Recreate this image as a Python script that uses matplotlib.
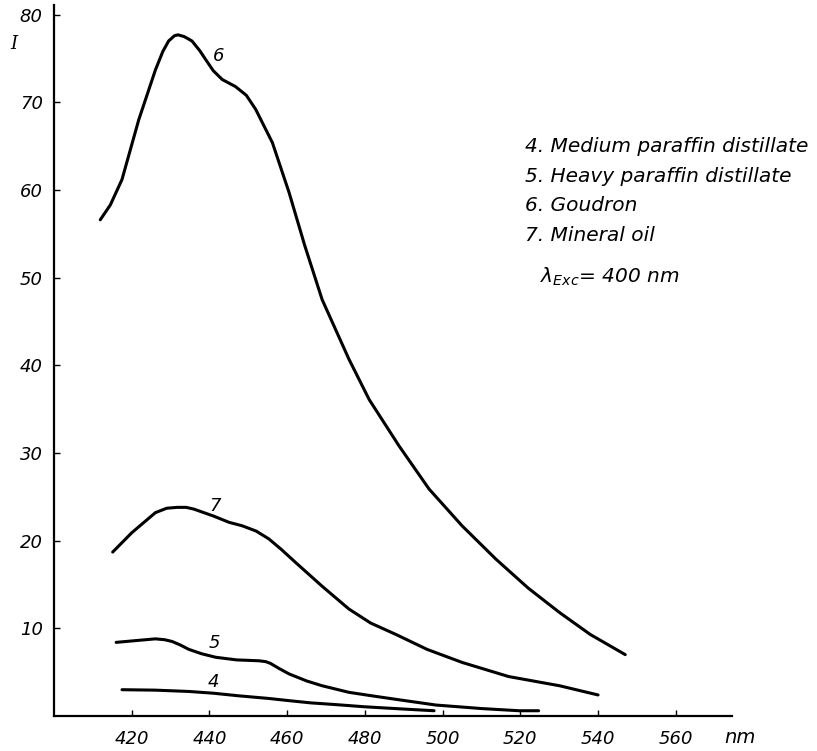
import numpy as np
import matplotlib
matplotlib.use('Agg')
import matplotlib.pyplot as plt

plt.rcParams['font.family'] = ['DejaVu Sans']
plt.rcParams['font.style'] = 'italic'

# fluorescence spectra, excitation 400 nm
nm6 = [411.9, 414.5, 417.5, 421.8, 426.1, 428.0, 429.5, 431.0, 431.9, 433.5, 435.5, 437.5,
       439.0, 441.0, 443.3, 446.7, 449.5, 451.9, 456.2, 460.5, 464.5, 469.0, 475.9, 481.1,
       488.8, 496.5, 505.0, 513.7, 522.0, 530.1, 538.0, 547.0]
I6 = [56.6, 58.3, 61.2, 68.0, 73.7, 75.8, 77.0, 77.6, 77.7, 77.5, 77.0, 75.9,
      74.9, 73.6, 72.6, 71.8, 70.8, 69.2, 65.4, 59.7, 53.7, 47.5, 40.7, 36.1,
      30.8, 25.9, 21.7, 17.9, 14.6, 11.8, 9.3, 7.0]

nm7 = [415.1, 420.0, 426.1, 429.0, 431.7, 434.0, 436.0, 441.1, 445.0, 448.4, 452.0, 455.3,
       458.5, 462.2, 469.0, 475.9, 481.5, 488.0, 496.0, 505.1, 517.0, 530.1, 540.0]
I7 = [18.7, 20.9, 23.2, 23.7, 23.8, 23.8, 23.6, 22.8, 22.1, 21.7, 21.1, 20.2,
      19.0, 17.5, 14.8, 12.2, 10.6, 9.3, 7.6, 6.1, 4.5, 3.45, 2.4]

nm5 = [416.0, 421.0, 426.1, 428.5, 430.4, 432.5, 434.7, 438.0, 441.6, 447.0, 452.7, 454.5,
       455.7, 458.0, 460.5, 465.0, 469.0, 475.9, 481.1, 488.0, 498.3, 510.0, 519.7, 524.7]
I5 = [8.4, 8.6, 8.8, 8.7, 8.5, 8.1, 7.6, 7.1, 6.7, 6.4, 6.3, 6.2,
      6.0, 5.4, 4.8, 4.0, 3.45, 2.7, 2.35, 1.9, 1.25, 0.85, 0.6, 0.6]

nm4 = [417.5, 426.0, 434.7, 441.0, 447.6, 455.3, 460.5, 466.0, 472.5, 480.0, 489.7, 497.8]
I4 = [3.0, 2.95, 2.8, 2.6, 2.3, 2.0, 1.75, 1.5, 1.3, 1.05, 0.8, 0.6]

curve_labels = ['4', '5', '6', '7']
label_x = [441.1, 441.4, 442.4, 441.5]
label_y = [3.9, 8.3, 75.3, 23.9]

legend_lines = ['4. Medium paraffin distillate',
                '5. Heavy paraffin distillate',
                '6. Goudron',
                '7. Mineral oil']

xticks = [420, 440, 460, 480, 500, 520, 540, 560]
yticks = [10, 20, 30, 40, 50, 60, 70, 80]

fig = plt.figure(figsize=(8.17, 7.51), dpi=100)
ax = fig.add_axes([0.0661, 0.0466, 0.830, 0.9467])

for x, y in [(nm6, I6), (nm7, I7), (nm5, I5), (nm4, I4)]:
    ax.plot(x, y, color='black', lw=2.2, solid_capstyle='round', solid_joinstyle='round')

for t, x, y in zip(curve_labels, label_x, label_y):
    ax.text(x, y, t, fontsize=13, ha='center', va='center')

ax.set_xlim(400, 574.5)
ax.set_ylim(0, 81.1)
ax.spines['top'].set_visible(False)
ax.spines['right'].set_visible(False)
ax.spines['left'].set_linewidth(1.6)
ax.spines['bottom'].set_linewidth(1.6)

ax.set_xticks(xticks)
ax.set_xticklabels([str(v) for v in xticks], fontsize=13)
ax.set_yticks(yticks)
ax.set_yticklabels([str(v) for v in yticks], fontsize=13)
ax.tick_params(axis='x', direction='in', length=4, width=1, pad=10)
ax.tick_params(axis='y', direction='in', length=4, width=1, pad=8)

ax.text(576.5, -2.4, 'nm', fontsize=14, ha='center', va='center', clip_on=False)
fig.text(0.012, 0.935, 'I', fontsize=13, family='DejaVu Serif', style='italic')

y0 = 0.805
for i, s in enumerate(legend_lines):
    fig.text(0.642, y0 - i * 0.0395, s, fontsize=14.5, va='center')
fig.text(0.661, 0.631, r'$\lambda_{Exc}$= 400 nm', fontsize=14.5, va='center')

fig.savefig('out.png', dpi=100)
